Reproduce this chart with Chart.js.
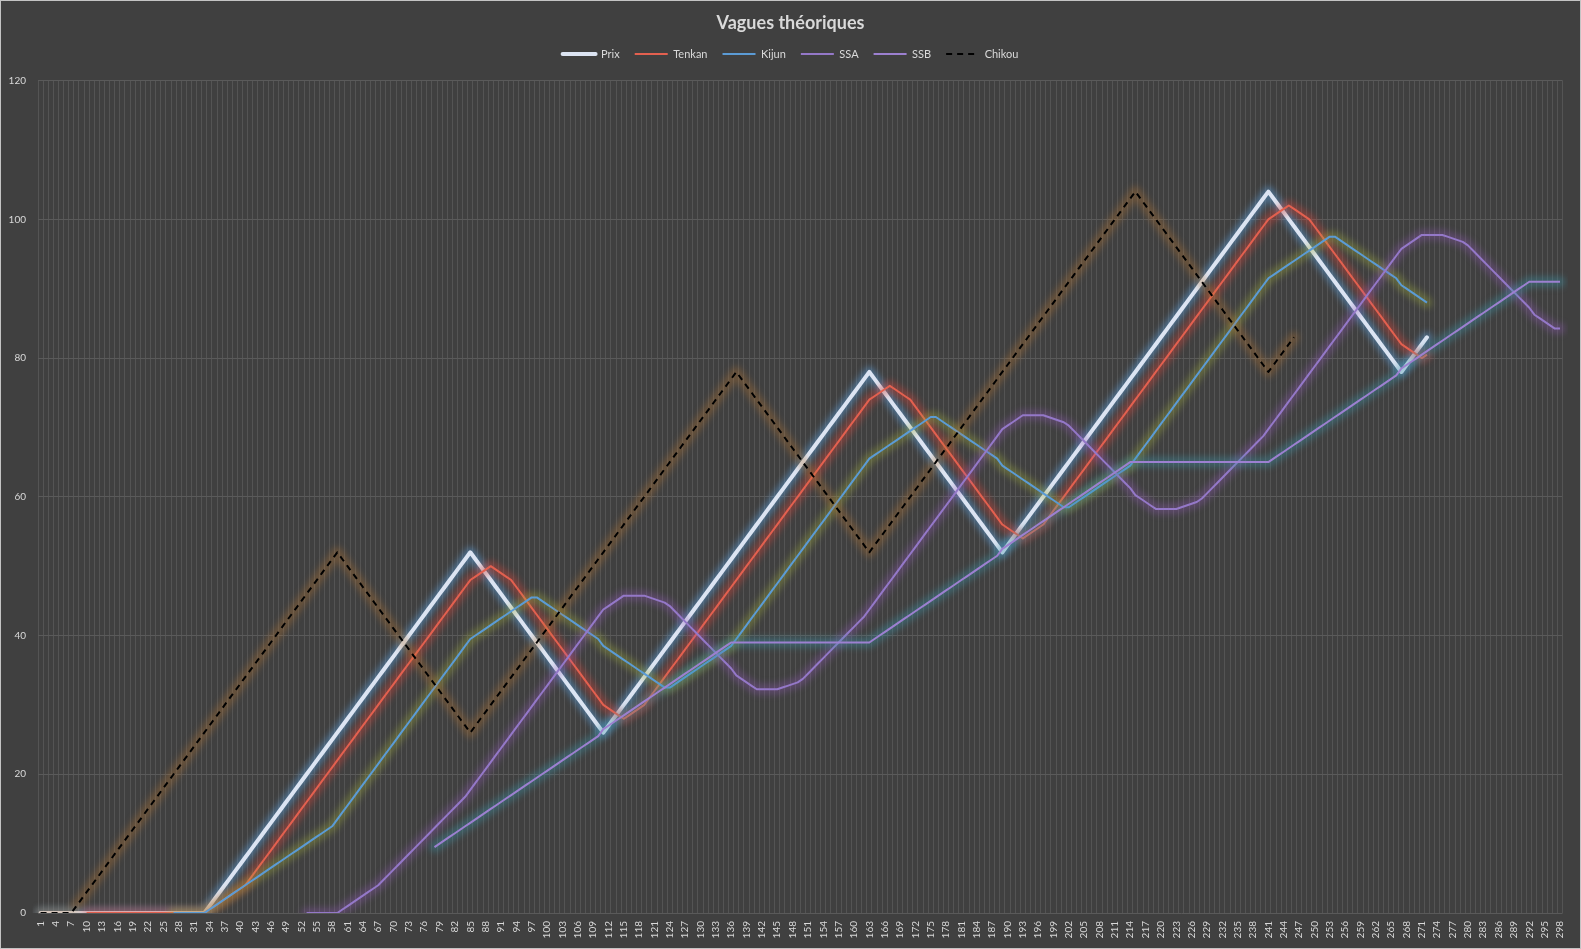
<!DOCTYPE html>
<html lang="fr">
<head>
<meta charset="utf-8">
<title>Vagues théoriques</title>
<script src="https://cdn.jsdelivr.net/npm/chart.js@4.4.1/dist/chart.umd.min.js"></script>
<style>
    html, body { margin: 0; padding: 0; background: #404040; }
    .frame { width: 1581px; height: 949px; box-sizing: border-box; border: 1px solid #c4c4c4; background: #404040; }
    canvas { display: block; }
</style>
</head>
<body>
<div class="frame"><canvas id="wavesChart" width="1579" height="947"></canvas></div>
<script>
// Categories (periods 1..298)
const categories = [
    1,2,3,4,5,6,7,8,9,10,11,12,13,14,15,16,17,18,19,20,
    21,22,23,24,25,26,27,28,29,30,31,32,33,34,35,36,37,38,39,40,
    41,42,43,44,45,46,47,48,49,50,51,52,53,54,55,56,57,58,59,60,
    61,62,63,64,65,66,67,68,69,70,71,72,73,74,75,76,77,78,79,80,
    81,82,83,84,85,86,87,88,89,90,91,92,93,94,95,96,97,98,99,100,
    101,102,103,104,105,106,107,108,109,110,111,112,113,114,115,116,117,118,119,120,
    121,122,123,124,125,126,127,128,129,130,131,132,133,134,135,136,137,138,139,140,
    141,142,143,144,145,146,147,148,149,150,151,152,153,154,155,156,157,158,159,160,
    161,162,163,164,165,166,167,168,169,170,171,172,173,174,175,176,177,178,179,180,
    181,182,183,184,185,186,187,188,189,190,191,192,193,194,195,196,197,198,199,200,
    201,202,203,204,205,206,207,208,209,210,211,212,213,214,215,216,217,218,219,220,
    221,222,223,224,225,226,227,228,229,230,231,232,233,234,235,236,237,238,239,240,
    241,242,243,244,245,246,247,248,249,250,251,252,253,254,255,256,257,258,259,260,
    261,262,263,264,265,266,267,268,269,270,271,272,273,274,275,276,277,278,279,280,
    281,282,283,284,285,286,287,288,289,290,291,292,293,294,295,296,297,298
];

// Prix (periods 1..272)
const prix = [
    0,0,0,0,0,0,0,0,0,0, 0,0,0,0,0,0,0,0,0,0, 0,0,0,0,0,0,0,0,0,0, 0,0,0,
    1,2,3,4,5,6,7,8,9,10,11,12,13,14,15,16,17,18,19,20,21,22,23,24,25,26,
    27,28,29,30,31,32,33,34,35,36,37,38,39,40,41,42,43,44,45,46,47,48,49,50,51,52,
    51,50,49,48,47,46,45,44,43,42,41,40,39,38,37,36,35,34,33,32,31,30,29,28,27,26,
    27,28,29,30,31,32,33,34,35,36,37,38,39,40,41,42,43,44,45,46,47,48,49,50,51,52,
    53,54,55,56,57,58,59,60,61,62,63,64,65,66,67,68,69,70,71,72,73,74,75,76,77,78,
    77,76,75,74,73,72,71,70,69,68,67,66,65,64,63,62,61,60,59,58,57,56,55,54,53,52,
    53,54,55,56,57,58,59,60,61,62,63,64,65,66,67,68,69,70,71,72,73,74,75,76,77,78,
    79,80,81,82,83,84,85,86,87,88,89,90,91,92,93,94,95,96,97,98,99,100,101,102,103,104,
    103,102,101,100,99,98,97,96,95,94,93,92,91,90,89,88,87,86,85,84,83,82,81,80,79,78,
    79,80,81,82,83
];

// Tenkan (periods 10..272)
const tenkanStart = 10;
const tenkan = [
    0,0,0,0,0,0,0,0,0,0, 0,0,0,0,0,0,0,0,0,0, 0,0,0,0,
    0.5,1,1.5,2,2.5,3,3.5,4,
    5,6,7,8,9,10,11,12,13,14,15,16,17,18,19,20,21,22,23,24,25,26,
    27,28,29,30,31,32,33,34,35,36,37,38,39,40,41,42,43,44,45,46,47,48,
    48.5,49,49.5,50,49.5,49,48.5,48,
    47,46,45,44,43,42,41,40,39,38,37,36,35,34,33,32,31,30,
    29.5,29,28.5,28,28.5,29,29.5,30,
    31,32,33,34,35,36,37,38,39,40,41,42,43,44,45,46,47,48,49,50,51,52,
    53,54,55,56,57,58,59,60,61,62,63,64,65,66,67,68,69,70,71,72,73,74,
    74.5,75,75.5,76,75.5,75,74.5,74,
    73,72,71,70,69,68,67,66,65,64,63,62,61,60,59,58,57,56,
    55.5,55,54.5,54,54.5,55,55.5,56,
    57,58,59,60,61,62,63,64,65,66,67,68,69,70,71,72,73,74,75,76,77,78,
    79,80,81,82,83,84,85,86,87,88,89,90,91,92,93,94,95,96,97,98,99,100,
    100.5,101,101.5,102,101.5,101,100.5,100,
    99,98,97,96,95,94,93,92,91,90,89,88,87,86,85,84,83,82,
    81.5,81,80.5,80,80.5
];

// Kijun (periods 27..272)
const kijunStart = 27;
const kijun = [
    0,0,0,0,0,0,0,
    0.5,1,1.5,2,2.5,3,3.5,4,4.5,5,5.5,6,6.5,7,7.5,8,8.5,9,9.5,10,10.5,11,11.5,12,12.5,
    13.5,14.5,15.5,16.5,17.5,18.5,19.5,20.5,21.5,22.5,23.5,24.5,25.5,26.5,
    27.5,28.5,29.5,30.5,31.5,32.5,33.5,34.5,35.5,36.5,37.5,38.5,39.5,
    40,40.5,41,41.5,42,42.5,43,43.5,44,44.5,45,45.5,
    45.5,45,44.5,44,43.5,43,42.5,42,41.5,41,40.5,40,39.5,
    38.5,38,37.5,37,36.5,36,35.5,35,34.5,34,33.5,33,32.5,
    32.5,33,33.5,34,34.5,35,35.5,36,36.5,37,37.5,38,38.5,
    39.5,40.5,41.5,42.5,43.5,44.5,45.5,46.5,47.5,48.5,49.5,50.5,51.5,52.5,
    53.5,54.5,55.5,56.5,57.5,58.5,59.5,60.5,61.5,62.5,63.5,64.5,65.5,
    66,66.5,67,67.5,68,68.5,69,69.5,70,70.5,71,71.5,
    71.5,71,70.5,70,69.5,69,68.5,68,67.5,67,66.5,66,65.5,
    64.5,64,63.5,63,62.5,62,61.5,61,60.5,60,59.5,59,58.5,
    58.5,59,59.5,60,60.5,61,61.5,62,62.5,63,63.5,64,64.5,
    65.5,66.5,67.5,68.5,69.5,70.5,71.5,72.5,73.5,74.5,75.5,76.5,77.5,78.5,
    79.5,80.5,81.5,82.5,83.5,84.5,85.5,86.5,87.5,88.5,89.5,90.5,91.5,
    92,92.5,93,93.5,94,94.5,95,95.5,96,96.5,97,97.5,
    97.5,97,96.5,96,95.5,95,94.5,94,93.5,93,92.5,92,91.5,
    90.5,90,89.5,89,88.5,88
];

// SSA (periods 53..298)
const ssaStart = 53;
const ssa = [
    0,0,0,0,0,0,0,
    0.5,1,1.5,2,2.5,3,3.5,4,
    4.75,5.5,6.25,7,7.75,8.5,9.25,10,10.75,11.5,12.25,13,13.75,14.5,15.25,16,16.75,
    17.75,18.75,19.75,20.75,21.75,22.75,23.75,24.75,25.75,26.75,27.75,28.75,29.75,30.75,
    31.75,32.75,33.75,34.75,35.75,36.75,37.75,38.75,39.75,40.75,41.75,42.75,43.75,
    44.25,44.75,45.25,45.75,45.75,45.75,45.75,45.75,
    45.5,45.25,45,44.75,44.25,43.5,42.75,42,41.25,40.5,39.75,39,38.25,37.5,36.75,36,35.25,
    34.25,
    33.75,33.25,32.75,32.25,32.25,32.25,32.25,32.25,
    32.5,32.75,33,33.25,33.75,34.5,35.25,36,36.75,37.5,38.25,39,39.75,40.5,41.25,42,42.75,
    43.75,44.75,45.75,46.75,47.75,48.75,49.75,50.75,51.75,52.75,53.75,54.75,55.75,56.75,
    57.75,58.75,59.75,60.75,61.75,62.75,63.75,64.75,65.75,66.75,67.75,68.75,69.75,
    70.25,70.75,71.25,71.75,71.75,71.75,71.75,71.75,
    71.5,71.25,71,70.75,70.25,69.5,68.75,68,67.25,66.5,65.75,65,64.25,63.5,62.75,62,61.25,
    60.25,
    59.75,59.25,58.75,58.25,58.25,58.25,58.25,58.25,
    58.5,58.75,59,59.25,59.75,60.5,61.25,62,62.75,63.5,64.25,65,65.75,66.5,67.25,68,68.75,
    69.75,70.75,71.75,72.75,73.75,74.75,75.75,76.75,77.75,78.75,79.75,80.75,81.75,82.75,
    83.75,84.75,85.75,86.75,87.75,88.75,89.75,90.75,91.75,92.75,93.75,94.75,95.75,
    96.25,96.75,97.25,97.75,97.75,97.75,97.75,97.75,
    97.5,97.25,97,96.75,96.25,95.5,94.75,94,93.25,92.5,91.75,91,90.25,89.5,88.75,88,87.25,
    86.25,
    85.75,85.25,84.75,84.25,84.25
];

// SSB (periods 78..298)
const ssbStart = 78;
const ssb = [
    9.5,10,10.5,11,11.5,12,12.5,13,13.5,14,14.5,15,15.5,16,16.5,17,17.5,
    18,18.5,19,19.5,20,20.5,21,21.5,22,22.5,23,23.5,24,24.5,25,25.5,
    26.5,27,27.5,28,28.5,29,29.5,30,30.5,31,31.5,32,32.5,
    33,33.5,34,34.5,35,35.5,36,36.5,37,37.5,38,38.5,39,
    39,39,39,39,39,39,39,39,39,39,39,39,39,39,39,39,39,39,39,39,39,39,39,39,39,39,39,
    39.5,40,40.5,41,41.5,42,42.5,43,43.5,44,44.5,45,45.5,
    46,46.5,47,47.5,48,48.5,49,49.5,50,50.5,51,51.5,
    52.5,53,53.5,54,54.5,55,55.5,56,56.5,57,57.5,58,58.5,
    59,59.5,60,60.5,61,61.5,62,62.5,63,63.5,64,64.5,65,
    65,65,65,65,65,65,65,65,65,65,65,65,65,65,65,65,65,65,65,65,65,65,65,65,65,65,65,
    65.5,66,66.5,67,67.5,68,68.5,69,69.5,70,70.5,71,71.5,
    72,72.5,73,73.5,74,74.5,75,75.5,76,76.5,77,77.5,
    78.5,79,79.5,80,80.5,81,81.5,82,82.5,83,83.5,84,84.5,
    85,85.5,86,86.5,87,87.5,88,88.5,89,89.5,90,90.5,91,
    91,91,91,91,91,91
];

// Chikou (periods 1..246)
const chikou = [
    0,0,0,0,0,0,0,
    1,2,3,4,5,6,7,8,9,10,11,12,13,14,15,16,17,18,19,20,21,22,23,24,25,26,
    27,28,29,30,31,32,33,34,35,36,37,38,39,40,41,42,43,44,45,46,47,48,49,50,51,52,
    51,50,49,48,47,46,45,44,43,42,41,40,39,38,37,36,35,34,33,32,31,30,29,28,27,26,
    27,28,29,30,31,32,33,34,35,36,37,38,39,40,41,42,43,44,45,46,47,48,49,50,51,52,
    53,54,55,56,57,58,59,60,61,62,63,64,65,66,67,68,69,70,71,72,73,74,75,76,77,78,
    77,76,75,74,73,72,71,70,69,68,67,66,65,64,63,62,61,60,59,58,57,56,55,54,53,52,
    53,54,55,56,57,58,59,60,61,62,63,64,65,66,67,68,69,70,71,72,73,74,75,76,77,78,
    79,80,81,82,83,84,85,86,87,88,89,90,91,92,93,94,95,96,97,98,99,100,101,102,103,104,
    103,102,101,100,99,98,97,96,95,94,93,92,91,90,89,88,87,86,85,84,83,82,81,80,79,78,
    79,80,81,82,83
];

// Put a series at its first period on the category axis
function placeAt(start, values) {
    return new Array(start - 1).fill(null).concat(values);
}

const series = [
    { label: 'Prix',   data: prix,                         color: '#dce4f2', width: 4, glow: 'rgba(91, 155, 213, 0.50)', cap: 'round' },
    { label: 'Tenkan', data: placeAt(tenkanStart, tenkan), color: '#e3604f', width: 2, glow: 'rgba(210, 70, 60, 0.42)' },
    { label: 'Kijun',  data: placeAt(kijunStart, kijun),   color: '#5b9bd5', width: 2, glow: 'rgba(160, 175, 60, 0.36)' },
    { label: 'SSA',    data: placeAt(ssaStart, ssa),       color: '#9478c8', width: 2, glow: 'rgba(150, 90, 190, 0.32)' },
    { label: 'SSB',    data: placeAt(ssbStart, ssb),       color: '#9c80d0', width: 2, glow: 'rgba(60, 150, 170, 0.38)' },
    { label: 'Chikou', data: chikou,                       color: '#000000', width: 2, glow: 'rgba(190, 120, 50, 0.32)', dash: [6, 5] }
];

const lineSets = series.map((s, i) => ({
    label: s.label,
    data: s.data,
    borderColor: s.color,
    borderWidth: s.width,
    borderDash: s.dash || [],
    borderCapStyle: s.cap || 'butt',
    borderJoinStyle: 'round',
    pointRadius: 0,
    tension: 0,
    order: (series.length - i) * 2 - 1
}));

const glowSets = series.map((s, i) => ({
    label: s.label + ' glow',
    data: s.data,
    borderColor: s.glow,
    borderWidth: 11,
    borderCapStyle: 'round',
    borderJoinStyle: 'round',
    pointRadius: 0,
    tension: 0,
    isGlow: true,
    order: (series.length - i) * 2
}));

// Soft blur under each line, like the spreadsheet glow effect
const glowPlugin = {
    id: 'glow',
    beforeDatasetDraw(chart, args) {
        if (chart.data.datasets[args.index].isGlow) {
            chart.ctx.save();
            chart.ctx.filter = 'blur(3px)';
        }
    },
    afterDatasetDraw(chart, args) {
        if (chart.data.datasets[args.index].isGlow) {
            chart.ctx.restore();
        }
    }
};

// Extra room between the legend and the plot
const legendGap = {
    id: 'legendGap',
    beforeInit(chart) {
        const fit = chart.legend.fit;
        chart.legend.fit = function () {
            fit.call(this);
            this.height += 11;
        };
    }
};

const textColor = '#d9d9d9';
const ctx = document.getElementById('wavesChart').getContext('2d');
new Chart(ctx, {
    type: 'line',
    data: {
        labels: categories,
        datasets: lineSets.concat(glowSets)
    },
    options: {
        responsive: false,
        animation: false,
        devicePixelRatio: 1,
        layout: { padding: 0 },
        plugins: {
            title: {
                display: true,
                text: 'Vagues théoriques',
                color: textColor,
                font: { family: 'Lato', size: 18, weight: 'bold' },
                padding: { top: 11, bottom: 0 }
            },
            legend: {
                labels: {
                    color: textColor,
                    font: { family: 'Lato', size: 11 },
                    usePointStyle: true,
                    pointStyleWidth: 33,
                    padding: 15,
                    generateLabels: chart => chart.data.datasets.slice(0, series.length).map((ds, i) => ({
                        text: ds.label,
                        datasetIndex: i,
                        fontColor: textColor,
                        fillStyle: ds.borderColor,
                        strokeStyle: ds.borderColor,
                        lineWidth: ds.borderWidth,
                        lineDash: ds.borderDash,
                        lineCap: ds.borderCapStyle,
                        pointStyle: 'line',
                        hidden: false
                    }))
                }
            },
            tooltip: { enabled: false }
        },
        scales: {
            x: {
                offset: true,
                grid: { offset: true, color: '#545454', drawTicks: false },
                border: { display: false },
                ticks: {
                    autoSkip: false,
                    minRotation: 90,
                    maxRotation: 90,
                    padding: 8,
                    color: textColor,
                    font: { family: 'Lato', size: 10 },
                    callback: function (value, index) {
                        return index % 3 === 0 ? this.getLabelForValue(value) : '';
                    }
                },
                afterFit: scale => { scale.height = 35; }
            },
            y: {
                min: 0,
                max: 120,
                grid: { color: '#5a5a5a', drawTicks: false },
                border: { display: false },
                ticks: {
                    stepSize: 20,
                    padding: 12,
                    color: textColor,
                    font: { family: 'Lato', size: 10 }
                },
                afterFit: scale => { scale.width = 37; }
            },
            // empty margin on the right of the plot
            yRight: {
                position: 'right',
                grid: { display: false },
                border: { display: false },
                ticks: { display: false },
                afterFit: scale => { scale.width = 13; }
            }
        }
    },
    plugins: [glowPlugin, legendGap]
});
</script>
</body>
</html>
